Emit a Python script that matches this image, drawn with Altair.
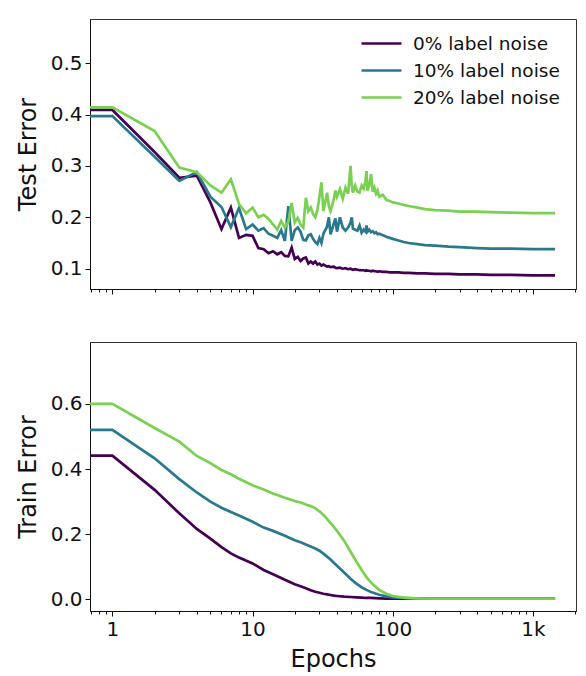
import altair as alt
import pandas as pd

# Series labels and colours (viridis samples)
series = ["0% label noise", "10% label noise", "20% label noise"]
colors = ["#440154", "#2a788e", "#7ad151"]

# ---- Test error --------------------------------------------------------
test_epochs = [0.69, 1, 2, 3, 4, 5, 6, 7, 8, 9, 10, 11, 12, 13, 14, 15, 16, 17, 18, 19, 20,
               21, 22, 23, 24, 25, 26, 27, 28, 29, 30, 31, 32, 34, 35, 36, 38, 39, 40,
               42, 44, 46, 48, 50, 51, 52, 54, 56, 58, 60,
               62, 64, 65, 66, 68, 70, 72, 74, 76, 78, 80,
               85, 90, 95, 100, 110, 120, 130, 150, 170, 200, 250, 300, 400, 500, 700, 1000, 1440]

test_noise0 = [0.409, 0.409, 0.327, 0.277, 0.281, 0.229, 0.177, 0.219, 0.160, 0.166, 0.164,
               0.140, 0.138, 0.130, 0.134, 0.128, 0.132, 0.125, 0.124, 0.141, 0.119,
               0.123, 0.115, 0.120, 0.122, 0.110, 0.114, 0.110, 0.114, 0.108, 0.110,
               0.106, 0.108, 0.104, 0.105, 0.103, 0.104, 0.102, 0.101,
               0.102, 0.100, 0.101, 0.099, 0.100, 0.099, 0.098, 0.099, 0.098, 0.097, 0.097,
               0.097, 0.096, 0.097, 0.096, 0.096, 0.095, 0.096, 0.095, 0.095, 0.094, 0.095,
               0.094, 0.094, 0.093, 0.093, 0.093, 0.092, 0.092, 0.091, 0.091, 0.090,
               0.090, 0.089, 0.089, 0.088, 0.088, 0.087, 0.087]

test_noise10 = [0.397, 0.397, 0.318, 0.271, 0.288, 0.240, 0.220, 0.181, 0.218, 0.177, 0.186,
                0.174, 0.179, 0.168, 0.164, 0.160, 0.175, 0.154, 0.222, 0.154, 0.175,
                0.180, 0.172, 0.156, 0.155, 0.165, 0.167, 0.158, 0.152, 0.148, 0.160,
                0.150, 0.168, 0.182, 0.200, 0.167, 0.188, 0.198, 0.172,
                0.200, 0.180, 0.174, 0.180, 0.190, 0.200, 0.178, 0.176, 0.174, 0.184, 0.170,
                0.176, 0.172, 0.184, 0.172, 0.176, 0.171, 0.173, 0.169, 0.171, 0.167, 0.168,
                0.165, 0.162, 0.160, 0.158, 0.155, 0.152, 0.150, 0.148, 0.146, 0.145,
                0.143, 0.142, 0.140, 0.139, 0.139, 0.138, 0.138]

test_noise20 = [0.414, 0.414, 0.368, 0.297, 0.288, 0.262, 0.248, 0.274, 0.226, 0.208, 0.219,
                0.200, 0.205, 0.197, 0.186, 0.176, 0.193, 0.180, 0.192, 0.228, 0.190,
                0.199, 0.186, 0.180, 0.238, 0.212, 0.219, 0.206, 0.200, 0.214, 0.240,
                0.268, 0.212, 0.248, 0.222, 0.212, 0.236, 0.252, 0.240,
                0.255, 0.236, 0.258, 0.246, 0.300, 0.262, 0.248, 0.262, 0.250, 0.248, 0.262,
                0.256, 0.272, 0.290, 0.252, 0.262, 0.284, 0.250, 0.258, 0.246, 0.252, 0.240,
                0.244, 0.234, 0.232, 0.229, 0.227, 0.224, 0.222, 0.219, 0.216, 0.214,
                0.213, 0.211, 0.211, 0.210, 0.209, 0.208, 0.208]

# ---- Train error -------------------------------------------------------
train_epochs = [0.69, 1, 2, 3, 4, 5, 6, 7, 8, 10, 12, 14, 17, 20, 22, 24, 26, 28, 30, 32,
                34, 36, 38, 40, 45, 50, 55, 60, 65, 70, 80, 90, 100, 120, 150, 200, 300,
                500, 1000, 1440]

train_noise0 = [0.441, 0.441, 0.336, 0.264, 0.216, 0.186, 0.160, 0.141, 0.128, 0.110, 0.090,
                0.077, 0.060, 0.046, 0.040, 0.034, 0.028, 0.023, 0.020, 0.017,
                0.015, 0.013, 0.011, 0.010, 0.008, 0.007, 0.006, 0.005, 0.004, 0.004,
                0.003, 0.002, 0.002, 0.002, 0.002, 0.002, 0.002, 0.002, 0.002, 0.002]

train_noise10 = [0.520, 0.520, 0.433, 0.369, 0.328, 0.300, 0.281, 0.268, 0.257, 0.238, 0.220,
                 0.210, 0.195, 0.181, 0.175, 0.168, 0.162, 0.156, 0.149, 0.140,
                 0.131, 0.122, 0.112, 0.103, 0.082, 0.063, 0.048, 0.037, 0.029, 0.022,
                 0.014, 0.009, 0.006, 0.004, 0.002, 0.002, 0.002, 0.002, 0.002, 0.002]

train_noise20 = [0.600, 0.600, 0.526, 0.484, 0.440, 0.418, 0.397, 0.384, 0.370, 0.350, 0.337,
                 0.325, 0.312, 0.302, 0.297, 0.291, 0.286, 0.280, 0.270, 0.259,
                 0.247, 0.234, 0.222, 0.210, 0.180, 0.146, 0.116, 0.090, 0.068, 0.051,
                 0.029, 0.017, 0.010, 0.005, 0.003, 0.002, 0.002, 0.002, 0.002, 0.002]

# Axis tick positions
major_ticks = [1, 10, 100, 1000]
minor_ticks = [0.7, 0.8, 0.9, 2, 3, 4, 5, 6, 7, 8, 9, 20, 30, 40, 50, 60, 70, 80, 90,
               200, 300, 400, 500, 600, 700, 800, 900, 2000]


def long_frame(epochs, cols):
    rows = []
    for name, vals in zip(series, cols):
        for e, v in zip(epochs, vals):
            rows.append({"epoch": e, "err": v, "series": name})
    return pd.DataFrame(rows)


test_df = long_frame(test_epochs, [test_noise0, test_noise10, test_noise20])
train_df = long_frame(train_epochs, [train_noise0, train_noise10, train_noise20])

FONT = "DejaVu Sans"
W = 486
x_scale = alt.Scale(type="log", domain=[0.692, 2030], nice=False)
color_scale = alt.Scale(domain=series, range=colors)


def panel(df, ytitle, ydomain, yticks, height, bottom, legend):
    x_axis = alt.Axis(
        values=major_ticks, orient="bottom", tickSize=5, labels=bottom,
        labelExpr="datum.value >= 1000 ? (datum.value / 1000) + 'k' : '' + datum.value",
        title="Epochs" if bottom else None, grid=False,
        labelPadding=3, titlePadding=8,
    )
    lines = alt.Chart(df).mark_line(strokeWidth=2.7, clip=True).encode(
        x=alt.X("epoch:Q", scale=x_scale, axis=x_axis),
        y=alt.Y("err:Q", scale=alt.Scale(domain=ydomain, nice=False, zero=False),
                axis=alt.Axis(values=yticks, format=".1f", title=ytitle, grid=False,
                              tickSize=5, labelPadding=3, titlePadding=10)),
        color=alt.Color("series:N", scale=color_scale, sort=series, legend=legend),
        order=alt.Order("epoch:Q"),
    )
    minor = alt.Chart(df).mark_point(opacity=0).encode(
        x=alt.X("epoch:Q", scale=x_scale,
                axis=alt.Axis(values=minor_ticks, orient="bottom", tickSize=3,
                              labels=False, domain=False, grid=False, title=None)),
    )
    return alt.layer(lines, minor).resolve_axis(x="independent").properties(
        width=W, height=height)


legend = alt.Legend(
    title=None, orient="none", legendX=280, legendY=13,
    symbolType="M-2,0H2", symbolSize=400, symbolStrokeWidth=2.7,
    labelFontSize=18.5, labelFont=FONT, labelOffset=20, rowPadding=6,
    labelColor="#111",
)

top = panel(test_df, "Test Error", [0.0605, 0.586], [0.1, 0.2, 0.3, 0.4, 0.5], 270,
            False, legend)
bottom = panel(train_df, "Train Error", [-0.036, 0.79], [0.0, 0.2, 0.4, 0.6], 269,
               True, None)

chart = alt.vconcat(top, bottom, spacing=46).resolve_legend(color="independent").properties(
    padding={"left": 15, "top": 18, "right": 8, "bottom": 6}
).configure_view(
    stroke="#333", strokeWidth=1
).configure_axis(
    labelFont=FONT, titleFont=FONT, labelFontSize=20, titleFontSize=24,
    titleFontWeight="normal", labelColor="#111", titleColor="#111",
    domainColor="#111", tickColor="#111", domainWidth=1, tickWidth=1,
)

chart.save("out.html", embed_options={"renderer": "svg", "actions": False})
